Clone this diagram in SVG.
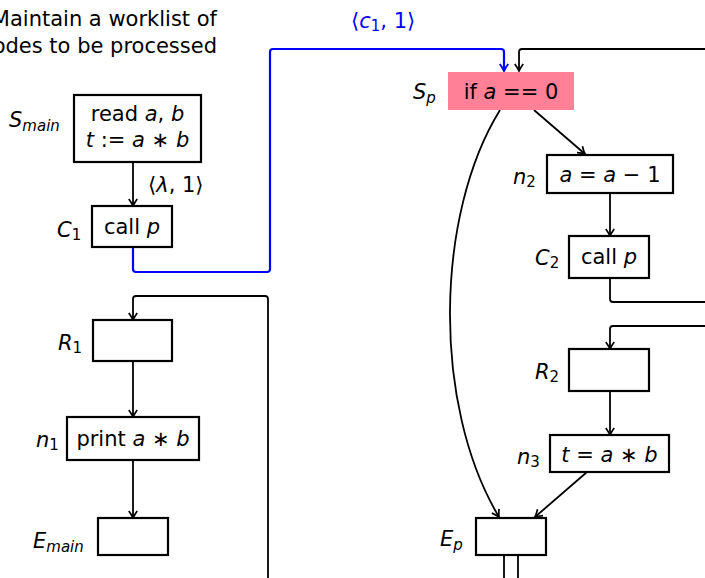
<svg xmlns="http://www.w3.org/2000/svg" width="705" height="578" viewBox="0 0 705 578">
<style>
text{font-family:"DejaVu Sans","Liberation Sans",sans-serif;font-size:21px;fill:#000}
.i{font-style:italic}
.sub{font-size:15px;font-style:italic}
.box{fill:#fff;stroke:#000;stroke-width:2.2}
.c{fill:none;stroke:#000;stroke-width:1.8}
.blue{stroke:#0000ff;stroke-width:2.2}
.mid{text-anchor:middle}
.note{text-anchor:end}
</style>
<defs>
<marker id="ah" viewBox="-9 -5 10 10" refX="0" refY="0" markerWidth="10" markerHeight="10" markerUnits="userSpaceOnUse" orient="auto">
<path d="M-7,-4.2 Q-2.5,-1 0,0 Q-2.5,1 -7,4.2" fill="none" stroke="#000" stroke-width="1.7"/>
</marker>
<marker id="ahb" viewBox="-9 -5 10 10" refX="0" refY="0" markerWidth="10" markerHeight="10" markerUnits="userSpaceOnUse" orient="auto">
<path d="M-7,-4.2 Q-2.5,-1 0,0 Q-2.5,1 -7,4.2" fill="none" stroke="#0000ff" stroke-width="1.9"/>
</marker>
</defs>
<g id="note">
<text class="note" x="217" y="26" font-size="21.8">Maintain a worklist of</text>
<text class="note" x="217" y="53">nodes to be processed</text>
</g>
<g id="connectors">
<path class="c" d="M133,162 V206" marker-end="url(#ah)"/>
<path class="c blue" d="M133,247 V269 Q133,272 136,272 H267 Q270,272 270,269 V52 Q270,49 273,49 H501 Q504,49 504,52 V71" marker-end="url(#ahb)"/>
<path class="c" d="M705,49 H522 Q519,49 519,52 V71" marker-end="url(#ah)"/>
<path class="c" d="M534,110 L585,154" marker-end="url(#ah)"/>
<path class="c" d="M500,110 C435,215 432,405 499,517" marker-end="url(#ah)"/>
<path class="c" d="M610,193 V236" marker-end="url(#ah)"/>
<path class="c" d="M610,278 V299 Q610,302 613,302 H705"/>
<path class="c" d="M705,326 H613 Q610,326 610,329 V349" marker-end="url(#ah)"/>
<path class="c" d="M610,391 V435" marker-end="url(#ah)"/>
<path class="c" d="M587,472 L535,517" marker-end="url(#ah)"/>
<path class="c" d="M504,555 V578 M518,555 V578"/>
<path class="c" d="M268,578 V299 Q268,296 265,296 H136 Q133,296 133,299 V320" marker-end="url(#ah)"/>
<path class="c" d="M133,361 V417" marker-end="url(#ah)"/>
<path class="c" d="M133,460 V518" marker-end="url(#ah)"/>
<text x="148" y="192">⟨<tspan class="i">λ</tspan>, 1⟩</text>
<text x="351" y="28" style="fill:#0000ff">⟨<tspan class="i">c</tspan><tspan font-size="15" dy="3">1</tspan><tspan dy="-3">, 1⟩</tspan></text>
</g>
<g id="Smain">
<rect class="box" x="74" y="95" width="127" height="67"/>
<text class="mid" x="137.5" y="121">read <tspan class="i">a</tspan>, <tspan class="i">b</tspan></text>
<text class="mid" x="137.5" y="147"><tspan class="i">t</tspan> := <tspan class="i">a</tspan> ∗ <tspan class="i">b</tspan></text>
<text x="9" y="127"><tspan class="i">S</tspan><tspan class="sub" dy="4">main</tspan></text>
</g>
<g id="C1">
<rect class="box" x="92" y="206" width="80" height="41"/>
<text class="mid" x="132" y="234">call <tspan class="i">p</tspan></text>
<text x="57" y="237"><tspan class="i">C</tspan><tspan font-size="15" dy="3">1</tspan></text>
</g>
<g id="Sp">
<rect x="448" y="72" width="126" height="38" fill="#ff8097"/>
<text class="mid" x="511" y="99">if <tspan class="i">a</tspan> == 0</text>
<text x="413" y="99"><tspan class="i">S</tspan><tspan class="sub" dy="4">p</tspan></text>
</g>
<g id="n2">
<rect class="box" x="547" y="155" width="126" height="38"/>
<text class="mid" x="610" y="182"><tspan class="i">a</tspan> = <tspan class="i">a</tspan> − 1</text>
<text x="513" y="184"><tspan class="i">n</tspan><tspan font-size="15" dy="3">2</tspan></text>
</g>
<g id="C2">
<rect class="box" x="569" y="236" width="80" height="42"/>
<text class="mid" x="609" y="264">call <tspan class="i">p</tspan></text>
<text x="535" y="265"><tspan class="i">C</tspan><tspan font-size="15" dy="3">2</tspan></text>
</g>
<g id="R2">
<rect class="box" x="569" y="349" width="80" height="42"/>
<text x="535" y="379"><tspan class="i">R</tspan><tspan font-size="15" dy="3">2</tspan></text>
</g>
<g id="n3">
<rect class="box" x="550" y="435" width="119" height="37"/>
<text class="mid" x="609.5" y="462"><tspan class="i">t</tspan> = <tspan class="i">a</tspan> ∗ <tspan class="i">b</tspan></text>
<text x="517" y="464"><tspan class="i">n</tspan><tspan font-size="15" dy="3">3</tspan></text>
</g>
<g id="Ep">
<rect class="box" x="476" y="518" width="70" height="37"/>
<text x="440" y="546"><tspan class="i">E</tspan><tspan class="sub" dy="4">p</tspan></text>
</g>
<g id="R1">
<rect class="box" x="93" y="320" width="79" height="41"/>
<text x="58" y="350"><tspan class="i">R</tspan><tspan font-size="15" dy="3">1</tspan></text>
</g>
<g id="n1">
<rect class="box" x="67" y="417" width="132" height="43"/>
<text class="mid" x="133" y="446">print <tspan class="i">a</tspan> ∗ <tspan class="i">b</tspan></text>
<text x="36" y="447"><tspan class="i">n</tspan><tspan font-size="15" dy="3">1</tspan></text>
</g>
<g id="Emain">
<rect class="box" x="98" y="518" width="70" height="37"/>
<text x="33" y="548"><tspan class="i">E</tspan><tspan class="sub" dy="4">main</tspan></text>
</g>
</svg>
